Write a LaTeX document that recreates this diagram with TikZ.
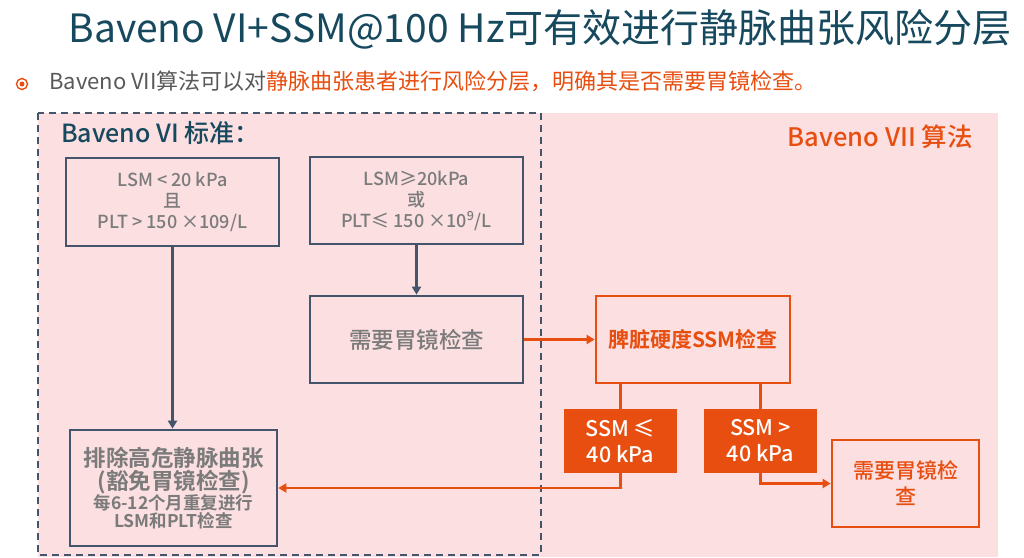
\documentclass[tikz,border=0pt]{standalone}
\usepackage{fontspec}
\setmainfont{Noto Sans CJK SC Medium}[BoldFont={Noto Sans CJK SC Bold}]
\newfontfamily\regfont{Noto Sans CJK SC}
\usetikzlibrary{arrows.meta}
\definecolor{pinkbg}{HTML}{FBDFE1}
\definecolor{slate}{HTML}{44546A}
\definecolor{org}{HTML}{E84E0F}
\definecolor{teal}{HTML}{17495E}
\definecolor{txtgray}{HTML}{7B7B7B}
\definecolor{darkgray}{HTML}{595959}
\tikzset{
  graybox/.style={draw=slate, line width=2.7pt, fill=none, text=txtgray, align=center, inner sep=2pt},
  orgbox/.style={draw=org, line width=2.7pt, fill=none, text=org, align=center, inner sep=2pt},
  orgfill/.style={draw=none, fill=org, text=white, align=center, inner sep=2pt},
  slatearrow/.style={draw=slate, line width=2.7pt, -{Triangle[length=8pt,width=9pt]}},
  orgarrow/.style={draw=org, line width=2.7pt, -{Triangle[length=8pt,width=9pt]}},
  orgline/.style={draw=org, line width=2.7pt},
}
\begin{document}
\begin{tikzpicture}[x=1pt,y=-1pt]
\useasboundingbox (0,0) rectangle (1024,557);
\fill[white] (0,0) rectangle (1024,557);
\fill[pinkbg] (38,113) rectangle (998,557);
\draw[slate, line width=2.2pt, dash pattern=on 7pt off 5pt] (38,113) rectangle (541,555);

% title
\node[text=teal, font=\regfont\fontsize{39}{42}\selectfont, anchor=center] (title) at (540,29) {Baveno VI+SSM@100 Hz可有效进行静脉曲张风险分层};

% bullet
\draw[org, line width=1.4pt] (22,84) circle (5.5pt);
\fill[org] (22,84) circle (2.5pt);
\node[anchor=west, font=\regfont\fontsize{22}{24}\selectfont, inner sep=0pt] (bullet) at (49,81)
  {\textcolor{darkgray}{Baveno VII算法可以对}\textcolor{org}{静脉曲张患者进行风险分层，明确其是否需要胃镜检查。}};

% section labels
\node[anchor=west, text=teal, font=\fontsize{25}{28}\selectfont, inner sep=0pt] (lab6) at (61,133) {Baveno VI 标准：};
\node[anchor=east, text=org, font=\fontsize{25.5}{28}\selectfont, inner sep=0pt] (lab7) at (973,137) {Baveno VII 算法};

% left boxes
\node[graybox, minimum width=213pt, minimum height=88pt, font=\fontsize{18}{21}\selectfont] (box1) at (172.5,202)
  {LSM < 20 kPa\\且\\PLT > 150 ×109/L};
\node[graybox, minimum width=213pt, minimum height=87pt, font=\fontsize{18}{21}\selectfont] (box2) at (416.5,200.5)
  {LSM≥20kPa\\或\\PLT≤ 150 ×10\textsuperscript{9}/L};
\node[graybox, minimum width=213pt, minimum height=87pt, font=\fontsize{22.5}{26}\selectfont] (box3) at (416.5,339.5)
  {需要胃镜检查};
\node[graybox, text=txtgray, minimum width=207pt, minimum height=116pt, font=\bfseries] (box4) at (173.5,488)
  {{\fontsize{22.5}{27}\selectfont 排除高危静脉曲张}\\{\fontsize{22.5}{26}\selectfont (豁免胃镜检查)}\\{\fontsize{17.5}{21}\selectfont 每6-12个月重复进行}\\{\fontsize{17.5}{21}\selectfont LSM和PLT检查}};

% right boxes
\node[orgbox, minimum width=194pt, minimum height=87pt, font=\bfseries\fontsize{21}{24}\selectfont] (ssm) at (693,339.5)
  {脾脏硬度SSM检查};
\node[orgfill, minimum width=113pt, minimum height=64pt, font=\fontsize{21.5}{26}\selectfont] (le) at (620.5,441)
  {SSM ≤\\40 kPa};
\node[orgfill, minimum width=113pt, minimum height=64pt, font=\fontsize{21.5}{26}\selectfont] (gt) at (760.5,441)
  {SSM >\\40 kPa};
\node[orgbox, minimum width=147pt, minimum height=87pt, font=\fontsize{21}{26}\selectfont] (fin) at (905.5,483.5)
  {需要胃镜检\\查};

% connectors
\draw[slatearrow] (box1.south) -- (box1.south |- box4.north);
\draw[slatearrow] (box2.south) -- (box3.north);
\draw[orgarrow] (box3.east) -- (ssm.west);
\draw[orgline] (le.north |- ssm.south) -- (le.north);
\draw[orgline] (gt.north |- ssm.south) -- (gt.north);
\draw[orgarrow] (le.south) |- (box4.east);
\draw[orgarrow] (gt.south) |- (fin.west);
\end{tikzpicture}
\end{document}
